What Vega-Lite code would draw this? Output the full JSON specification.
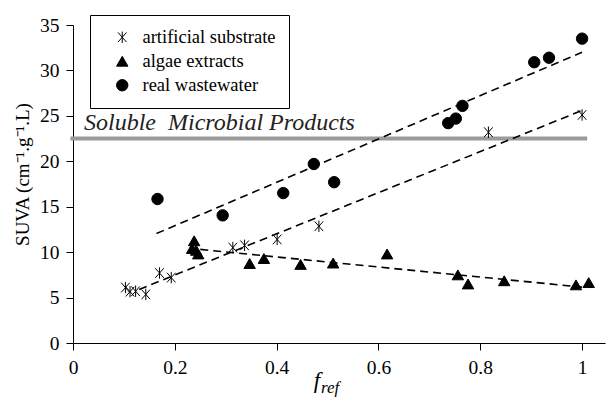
{
  "$schema": "https://vega.github.io/schema/vega-lite/v6.json",
  "width": 532,
  "height": 318,
  "autosize": {"type": "none"},
  "padding": {"left": 73, "top": 25, "right": 1, "bottom": 57},
  "background": "white",
  "datasets": {
    "points": [
      {"series": "artificial substrate", "f": 0.103, "suva": 6.1},
      {"series": "artificial substrate", "f": 0.112, "suva": 5.65},
      {"series": "artificial substrate", "f": 0.123, "suva": 5.7},
      {"series": "artificial substrate", "f": 0.143, "suva": 5.35},
      {"series": "artificial substrate", "f": 0.17, "suva": 7.7},
      {"series": "artificial substrate", "f": 0.193, "suva": 7.2},
      {"series": "artificial substrate", "f": 0.314, "suva": 10.5},
      {"series": "artificial substrate", "f": 0.337, "suva": 10.75},
      {"series": "artificial substrate", "f": 0.401, "suva": 11.4},
      {"series": "artificial substrate", "f": 0.483, "suva": 12.85},
      {"series": "artificial substrate", "f": 0.816, "suva": 23.2},
      {"series": "artificial substrate", "f": 1.0, "suva": 25.1},
      {"series": "algae extracts", "f": 0.238, "suva": 11.25},
      {"series": "algae extracts", "f": 0.234, "suva": 10.4},
      {"series": "algae extracts", "f": 0.242, "suva": 10.2},
      {"series": "algae extracts", "f": 0.246, "suva": 9.8},
      {"series": "algae extracts", "f": 0.347, "suva": 8.75},
      {"series": "algae extracts", "f": 0.375, "suva": 9.3},
      {"series": "algae extracts", "f": 0.447, "suva": 8.65},
      {"series": "algae extracts", "f": 0.511, "suva": 8.8},
      {"series": "algae extracts", "f": 0.617, "suva": 9.8},
      {"series": "algae extracts", "f": 0.756, "suva": 7.5},
      {"series": "algae extracts", "f": 0.776, "suva": 6.5},
      {"series": "algae extracts", "f": 0.847, "suva": 6.85},
      {"series": "algae extracts", "f": 0.988, "suva": 6.4},
      {"series": "algae extracts", "f": 1.013, "suva": 6.65},
      {"series": "real wastewater", "f": 0.166, "suva": 15.85},
      {"series": "real wastewater", "f": 0.294, "suva": 14.05},
      {"series": "real wastewater", "f": 0.413, "suva": 16.5},
      {"series": "real wastewater", "f": 0.473, "suva": 19.7},
      {"series": "real wastewater", "f": 0.513, "suva": 17.7},
      {"series": "real wastewater", "f": 0.737, "suva": 24.2},
      {"series": "real wastewater", "f": 0.752, "suva": 24.7},
      {"series": "real wastewater", "f": 0.765, "suva": 26.1},
      {"series": "real wastewater", "f": 0.906, "suva": 30.9},
      {"series": "real wastewater", "f": 0.935, "suva": 31.4},
      {"series": "real wastewater", "f": 1.0, "suva": 33.5}
    ],
    "fits": [
      {"series": "artificial substrate", "f": 0.13, "suva": 5.9},
      {"series": "artificial substrate", "f": 1.0, "suva": 25.6},
      {"series": "algae extracts", "f": 0.25, "suva": 10.3},
      {"series": "algae extracts", "f": 1.0, "suva": 6.15},
      {"series": "real wastewater", "f": 0.164, "suva": 12.05},
      {"series": "real wastewater", "f": 1.0, "suva": 32.0}
    ],
    "smp": [
      {"f": -0.005, "f2": 1.01, "suva": 22.5, "label": "Soluble\u00a0 Microbial Products", "lf": 0.0216, "ly": 23.45}
    ],
    "xtitle": [
      {"f": 0.479, "suva": 0, "t": "f", "sub": "ref", "fs": 0.487}
    ]
  },
  "layer": [
    {
      "data": {"name": "smp"},
      "mark": {"type": "rule", "color": "#9a9a9a", "strokeWidth": 4},
      "encoding": {
        "x": {"field": "f", "type": "quantitative", "scale": {"domain": [0, 1.045], "nice": false, "zero": false}, "axis": {"values": [0, 0.2, 0.4, 0.6, 0.8, 1], "format": "~g", "title": null, "labelFlush": false, "labelPadding": 8, "labelFont": "Liberation Serif", "labelFontSize": 19.5}},
        "x2": {"field": "f2"},
        "y": {"field": "suva", "type": "quantitative", "scale": {"domain": [0, 35], "nice": false}, "axis": {"values": [0, 5, 10, 15, 20, 25, 30, 35], "title": "SUVA (cm⁻¹.g⁻¹.L)", "titleFont": "Liberation Serif", "titleFontSize": 19, "titleX": -45, "titleY": 149, "titleAngle": -90, "titleAlign": "center", "titleBaseline": "alphabetic", "labelPadding": 7, "labelFont": "Liberation Serif", "labelFontSize": 19.5}}
      }
    },
    {
      "data": {"name": "smp"},
      "mark": {"type": "text", "font": "Liberation Serif", "fontStyle": "italic", "fontSize": 24, "align": "left", "baseline": "alphabetic", "color": "#222"},
      "encoding": {
        "x": {"field": "lf", "type": "quantitative"},
        "y": {"field": "ly", "type": "quantitative"},
        "text": {"field": "label"}
      }
    },
    {
      "data": {"name": "fits"},
      "mark": {"type": "line", "color": "black", "strokeWidth": 1.6, "strokeDash": [8, 5]},
      "encoding": {
        "x": {"field": "f", "type": "quantitative"},
        "y": {"field": "suva", "type": "quantitative"},
        "detail": {"field": "series"}
      }
    },
    {
      "data": {"name": "points"},
      "mark": {"type": "point", "filled": true, "strokeWidth": 1, "opacity": 1},
      "encoding": {
        "x": {"field": "f", "type": "quantitative"},
        "y": {"field": "suva", "type": "quantitative"},
        "shape": {"field": "series", "type": "nominal", "scale": {"domain": ["artificial substrate", "algae extracts", "real wastewater"], "range": ["M-0.75,-0.85L0.75,0.85M-0.75,0.85L0.75,-0.85M0,-1L0,1", "triangle-up", "circle"]}, "legend": {"title": null, "labelFont": "Liberation Serif", "labelFontSize": 18.5}},
        "fill": {"field": "series", "type": "nominal", "scale": {"domain": ["artificial substrate", "algae extracts", "real wastewater"], "range": ["black", "black", "black"]}, "legend": {"title": null, "labelFont": "Liberation Serif", "labelFontSize": 18.5}},
        "stroke": {"field": "series", "type": "nominal", "scale": {"domain": ["artificial substrate", "algae extracts", "real wastewater"], "range": ["black", "black", "black"]}, "legend": {"title": null, "labelFont": "Liberation Serif", "labelFontSize": 18.5}},
        "size": {"value": 130}
      }
    },
    {
      "data": {"name": "xtitle"},
      "mark": {"type": "text", "font": "Liberation Serif", "fontStyle": "italic", "fontSize": 23, "align": "center", "baseline": "alphabetic", "dy": 45, "color": "black"},
      "encoding": {
        "x": {"field": "f", "type": "quantitative"},
        "y": {"field": "suva", "type": "quantitative"},
        "text": {"field": "t"}
      }
    },
    {
      "data": {"name": "xtitle"},
      "mark": {"type": "text", "font": "Liberation Serif", "fontStyle": "italic", "fontSize": 17, "align": "left", "baseline": "alphabetic", "dy": 50, "color": "black"},
      "encoding": {
        "x": {"field": "fs", "type": "quantitative"},
        "y": {"field": "suva", "type": "quantitative"},
        "text": {"field": "sub"}
      }
    }
  ],
  "config": {
    "view": {"stroke": null},
    "axis": {
      "domainColor": "black",
      "tickColor": "black",
      "labelColor": "black",
      "grid": false,
      "tickSize": 7,
      "titleFontWeight": "normal",
      "titleColor": "black"
    },
    "legend": {
      "orient": "none",
      "legendX": 17,
      "legendY": -10,
      "strokeColor": "black",
      "fillColor": "white",
      "padding": 13,
      "symbolOffset": 10,
      "labelOffset": 11,
      "labelColor": "black",
      "rowPadding": 5,
      "symbolSize": 130,
      "symbolStrokeWidth": 1,
      "cornerRadius": 0
    }
  }
}
